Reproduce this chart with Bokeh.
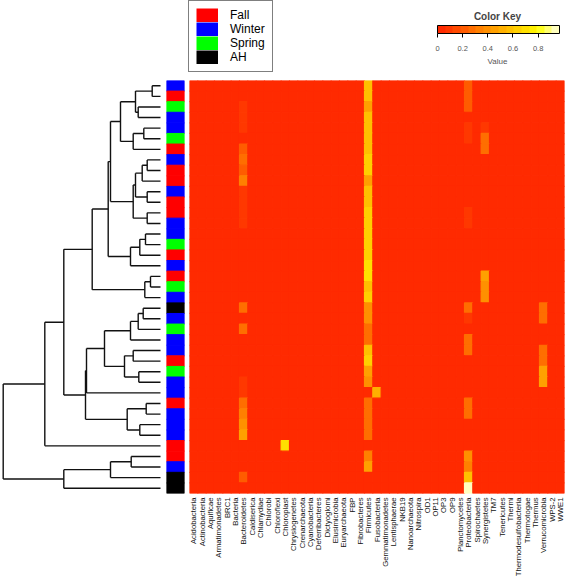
import math
from bokeh.plotting import figure
from bokeh.layouts import column, row
from bokeh.models import (ColumnDataSource, FactorRange, Range1d, LinearColorMapper,
                          ColorBar, FixedTicker, PrintfTickFormatter, Label, Legend, LegendItem)
from bokeh.transform import linear_cmap, factor_cmap
from bokeh.embed import file_html
from bokeh.resources import INLINE

# ---------------- data ----------------
TAXA = ["Acidobacteria", "Actinobacteria", "Aquificae", "Armatimonadetes", "BRC1", "Bacteria",
        "Bacteroidetes", "Caldiserica", "Chlamydiae", "Chlorobi", "Chloroflexi", "Chloroplast",
        "Chrysiogenetes", "Crenarchaeota", "Cyanobacteria", "Deferribacteres", "Dictyoglomi",
        "Elusimicrobia", "Euryarchaeota", "FBP", "Fibrobacteres", "Firmicutes", "Fusobacteria",
        "Gemmatimonadetes", "Lentisphaerae", "NKB19", "Nanoarchaeota", "Nitrospira", "OD1", "OP11",
        "OP3", "OP9", "Planctomycetes", "Proteobacteria", "Spirochaetes", "Synergistetes", "TM7",
        "Tenericutes", "Thermi", "Thermodesulfobacteria", "Thermotogae", "Thermus",
        "Verrucomicrobia", "WPS-2", "WWE1"]

SEASONS = ["Fall", "Winter", "Spring", "AH"]
SEASON_COLORS = ["#FF0000", "#0000FF", "#00FF00", "#000000"]

# samples in dendrogram order (top to bottom)
SAMPLE_SEASON = ["Winter", "Fall", "Spring", "Winter", "Winter", "Spring", "Fall", "Winter",
                 "Fall", "Fall", "Winter", "Fall", "Fall", "Winter", "Winter", "Spring", "Fall",
                 "Winter", "Fall", "Spring", "Winter", "AH", "Winter", "Spring", "Winter",
                 "Winter", "Fall", "Spring", "Winter", "Winter", "Fall", "Winter", "Winter",
                 "Winter", "Fall", "Fall", "Winter", "AH", "AH"]
SAMPLES = ["S%02d" % (i + 1) for i in range(len(SAMPLE_SEASON))]

BACKGROUND = 0.01
BACTEROIDETES = [0.03, 0.03, 0.08, 0.08, 0.08, 0.03, 0.2, 0.25, 0.2, 0.32, 0.12, 0.12, 0.1,
                 0.1, 0.05, 0.05, 0.05, 0.03, 0.03, 0.03, 0.03, 0.3, 0.03, 0.25, 0.03, 0.03,
                 0.03, 0.03, 0.1, 0.1, 0.3, 0.33, 0.38, 0.45, 0.03, 0.03, 0.03, 0.22, 0.03]
CHLOROPLAST = [0.01] * 34 + [0.72] + [0.01] * 4
FIRMICUTES = [0.57, 0.57, 0.45, 0.57, 0.57, 0.57, 0.57, 0.63, 0.63, 0.45, 0.57, 0.57, 0.63,
              0.63, 0.63, 0.63, 0.63, 0.7, 0.7, 0.57, 0.63, 0.4, 0.4, 0.3, 0.3, 0.57, 0.63,
              0.45, 0.4, 0.03, 0.28, 0.28, 0.28, 0.28, 0.02, 0.35, 0.47, 0.02, 0.02]
FUSOBACTERIA = [0.01] * 29 + [0.52] + [0.01] * 9
PROTEOBACTERIA = [0.2, 0.2, 0.2, 0.05, 0.1, 0.1, 0.05, 0.03, 0.03, 0.03, 0.03, 0.03, 0.08,
                  0.08, 0.03, 0.03, 0.03, 0.06, 0.03, 0.03, 0.03, 0.3, 0.1, 0.03, 0.3, 0.28,
                  0.03, 0.05, 0.05, 0.03, 0.3, 0.28, 0.05, 0.05, 0.06, 0.38, 0.35, 0.58, 0.95]
SYNERGISTETES = [0.01, 0.01, 0.01, 0.01, 0.08, 0.25, 0.25, 0.01, 0.01, 0.01, 0.01, 0.01,
                 0.01, 0.01, 0.01, 0.01, 0.01, 0.01, 0.45, 0.4, 0.38, 0.01, 0.01, 0.01, 0.01,
                 0.01, 0.01, 0.01, 0.01, 0.01, 0.01, 0.01, 0.01, 0.01, 0.01, 0.01, 0.01, 0.01,
                 0.01]
VERRUCOMICROBIA = [0.01] * 21 + [0.3, 0.28, 0.01, 0.01, 0.3, 0.25, 0.45, 0.45, 0.05] + [0.01] * 9

HIGHLIGHT = {"Bacteroidetes": BACTEROIDETES, "Chloroplast": CHLOROPLAST,
             "Firmicutes": FIRMICUTES, "Fusobacteria": FUSOBACTERIA,
             "Proteobacteria": PROTEOBACTERIA, "Synergistetes": SYNERGISTETES,
             "Verrucomicrobia": VERRUCOMICROBIA}

# hclust-style merges: negative = leaf (row number), positive = earlier merge
MERGE = [(-1, -2), (-3, -4), (1, 2), (-5, -6), (4, -7), (3, 5), (-8, -9), (7, -10),
         (-11, -12), (8, 9), (-13, -14), (10, 11), (6, 12), (-15, -16), (14, -17), (15, -18),
         (13, 16), (-19, -20), (18, -21), (17, 19), (-22, -23), (21, -24), (22, -25),
         (-26, -27), (-28, -29), (24, 25), (23, 26), (27, -30), (-31, -32), (-33, -34),
         (29, 30), (28, 31), (20, 32), (33, -35), (-36, -37), (35, -38), (36, -39), (34, 37)]
MERGE_HEIGHT = [0.83, 2.23, 2.5, 1.67, 2.73, 4.0, 1.33, 1.83, 1.33, 2.5, 1.33, 2.73, 5.0,
                1.5, 2.07, 3.0, 5.23, 1.0, 1.57, 6.83, 1.73, 2.23, 3.0, 2.73, 2.17, 3.6, 5.6,
                7.4, 1.43, 2.07, 3.33, 7.5, 9.67, 11.57, 2.93, 5.0, 9.67, 15.73]

KEY_LOW, KEY_HIGH = 0.0, 0.97
KEY_TICKS = [0, 0.2, 0.4, 0.6, 0.8]
KEY_PALETTE = ["#FF2A00", "#FF3800", "#FF4A00", "#FF5C00", "#FF6E00", "#FF8000", "#FF9000",
               "#FFA000", "#FFB000", "#FFC000", "#FFD000", "#FFE000", "#FFF000", "#FFFF20",
               "#FFFF70", "#FFFFC0"]

FONT = "Liberation Sans"
n = len(SAMPLES)

# ---------------- top: legend + color key ----------------
TOP_H = 80
top = figure(width=567, height=TOP_H, x_range=Range1d(0, 567), y_range=Range1d(0, TOP_H),
             toolbar_location=None, output_backend="svg", min_border=0,
             x_axis_location=None, y_axis_location=None, outline_line_color=None)
top.grid.visible = False

items = []
for s, c in zip(SEASONS, SEASON_COLORS):
    r = top.line(x=[math.nan], y=[math.nan], line_color=c, line_width=14)
    items.append(LegendItem(label=s, renderers=[r]))
legend = Legend(items=items, location=(188, 8), orientation="vertical",
                border_line_color="black", border_line_width=1, background_fill_alpha=1,
                padding=7, spacing=0, margin=0, glyph_width=22, glyph_height=14,
                label_height=14, label_standoff=12, label_text_font_size="12px",
                label_text_font=FONT, label_text_color="black")
top.add_layout(legend)

mapper = LinearColorMapper(palette=KEY_PALETTE, low=KEY_LOW, high=KEY_HIGH)
cbar = ColorBar(color_mapper=mapper, orientation="horizontal", location=(437, 27),
                width=122, height=8, padding=0, margin=0, title=None,
                ticker=FixedTicker(ticks=KEY_TICKS), formatter=PrintfTickFormatter(format="%g"),
                major_tick_in=0, major_tick_out=4, major_tick_line_color="black",
                minor_tick_line_color=None, label_standoff=8,
                major_label_text_font_size="7.5px", major_label_text_color="#555555",
                major_label_text_font=FONT, bar_line_color="black",
                border_line_color=None, background_fill_color=None)
top.add_layout(cbar)
top.add_layout(Label(x=497, y=64, text="Color Key", text_align="center",
                     text_baseline="middle", text_font=FONT, text_font_size="10px",
                     text_font_style="bold"))
top.add_layout(Label(x=497, y=19, text="Value", text_align="center", text_baseline="middle",
                     text_font=FONT, text_font_size="8px", text_color="#555555"))

# ---------------- heatmap ----------------
xs, ys, vals = [], [], []
for i, smp in enumerate(SAMPLES):
    for t in TAXA:
        xs.append(t)
        ys.append(smp)
        vals.append(HIGHLIGHT[t][i] if t in HIGHLIGHT else BACKGROUND)
cells = ColumnDataSource(dict(taxon=xs, sample=ys, value=vals))

ROW_H = 500
BOTTOM = 87
y_range = FactorRange(factors=list(reversed(SAMPLES)))
heat = figure(width=380, height=ROW_H, x_range=FactorRange(factors=TAXA), y_range=y_range,
              toolbar_location=None, output_backend="svg", min_border_left=2,
              min_border_right=3, min_border_top=0, min_border_bottom=BOTTOM,
              y_axis_location=None, outline_line_color=None)
cmap = linear_cmap("value", KEY_PALETTE, KEY_LOW, KEY_HIGH)
heat.rect(x="taxon", y="sample", width=1, height=1, source=cells, fill_color=cmap,
          line_color=cmap, line_width=1.2)
heat.grid.visible = False
ax = heat.xaxis[0]
ax.major_label_orientation = math.pi / 2
ax.major_label_text_font_size = "7.7px"
ax.major_label_text_font = FONT
ax.major_label_text_color = "#111111"
ax.major_label_standoff = 4
ax.axis_line_color = None
ax.major_tick_line_color = None
ax.major_tick_out = 0
ax.major_tick_in = 0

# ---------------- season strip ----------------
strip_src = ColumnDataSource(dict(col=["season"] * n, sample=SAMPLES, season=SAMPLE_SEASON))
strip = figure(width=22, height=ROW_H, x_range=FactorRange(factors=["season"]), y_range=y_range,
               toolbar_location=None, output_backend="svg", min_border_left=1,
               min_border_right=3, min_border_top=0, min_border_bottom=BOTTOM,
               x_axis_location=None, y_axis_location=None, outline_line_color=None)
scmap = factor_cmap("season", SEASON_COLORS, SEASONS)
strip.rect(x="col", y="sample", width=1, height=1, source=strip_src, fill_color=scmap,
           line_color=scmap, line_width=1.0)
strip.grid.visible = False

# ---------------- dendrogram ----------------
node_y, node_h = [], []


def pos(ref):
    if ref < 0:
        return n - (-ref) + 0.5, 0.0
    return node_y[ref - 1], node_h[ref - 1]


x0, y0, x1, y1 = [], [], [], []
for (a, b), h in zip(MERGE, MERGE_HEIGHT):
    ya, ha = pos(a)
    yb, hb = pos(b)
    x0 += [ha, hb, h]
    y0 += [ya, yb, ya]
    x1 += [h, h, h]
    y1 += [ya, yb, yb]
    node_y.append((ya + yb) / 2)
    node_h.append(h)

hmax = max(MERGE_HEIGHT)
dend = figure(width=165, height=ROW_H, x_range=Range1d(hmax * 1.0172, -hmax * 0.0318),
              y_range=Range1d(0, n), toolbar_location=None, output_backend="svg",
              min_border_left=0, min_border_right=0, min_border_top=0,
              min_border_bottom=BOTTOM, x_axis_location=None, y_axis_location=None,
              outline_line_color=None)
dend.segment(x0=x0, y0=y0, x1=x1, y1=y1, line_color="#111111", line_width=1.4)
dend.grid.visible = False

layout = column(top, row(dend, strip, heat))
open("out.html", "w").write(file_html(layout, INLINE))
